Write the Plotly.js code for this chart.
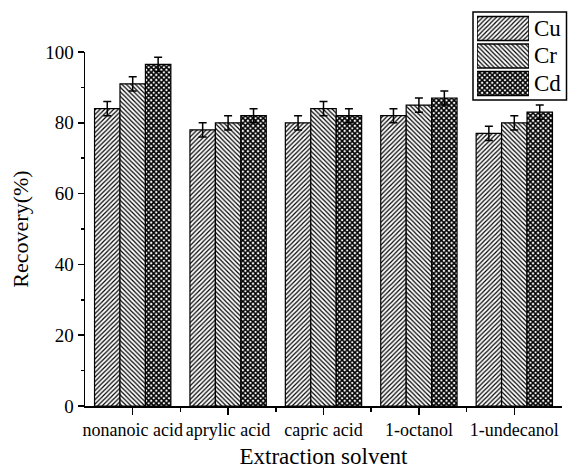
<!DOCTYPE html>
<html>
<head>
<meta charset="utf-8">
<script src="https://cdn.plot.ly/plotly-3.0.1.min.js"></script>
<style>html,body{margin:0;padding:0;background:#fff}</style>
</head>
<body>
<div id="chart" style="width:568px;height:470px"></div>
<script>
const categories = ['nonanoic acid', 'aprylic acid', 'capric acid', '1-octanol', '1-undecanol'];
const seriesNames = ['Cu', 'Cr', 'Cd'];
const cuValues = [84, 78, 80, 82, 77];
const crValues = [91, 80, 84, 85, 80];
const cdValues = [96.5, 82, 82, 87, 83];
const cuErrors = [2, 2, 2, 2, 2];
const crErrors = [2, 2, 2, 2, 2];
const cdErrors = [2, 2, 2, 2, 2];
const yTickVals = [0, 20, 40, 60, 80, 100];
const legendSwatchValues = [1, 1, 1];

const FONT = 'Liberation Serif, Times New Roman, serif';
const patterns = {
  Cu: {shape: '/', size: 3.2, solidity: 0.38, fgcolor: '#000', bgcolor: '#fff'},
  Cr: {shape: '\\', size: 3.2, solidity: 0.38, fgcolor: '#000', bgcolor: '#fff'},
  Cd: {shape: 'x', size: 3.6, solidity: 0.7, fgcolor: '#000', bgcolor: '#fff'}
};
const xIdx = categories.map((_, i) => i);

function barTrace(name, values, errors) {
  return {
    type: 'bar', name: name, x: xIdx, y: values,
    marker: {color: '#fff', line: {color: '#000', width: 1.2}, pattern: patterns[name]},
    error_y: {type: 'data', array: errors, visible: true, color: '#000', thickness: 1.5, width: 4},
    showlegend: false
  };
}

const traces = [
  barTrace('Cu', cuValues, cuErrors),
  barTrace('Cr', crValues, crErrors),
  barTrace('Cd', cdValues, cdErrors),
  {
    type: 'bar', orientation: 'h', x: legendSwatchValues, y: seriesNames,
    xaxis: 'x2', yaxis: 'y2', width: 0.88, showlegend: false, hoverinfo: 'skip',
    marker: {
      color: '#fff', line: {color: '#000', width: 1.5},
      pattern: {
        shape: seriesNames.map(n => patterns[n].shape),
        size: seriesNames.map(n => patterns[n].size),
        solidity: seriesNames.map(n => patterns[n].solidity),
        fgcolor: '#000', bgcolor: '#fff'
      }
    }
  }
];

const W = 568, H = 470, ML = 85, MR = 1, MT = 10, MB = 64;
const PW = W - ML - MR, PH = H - MT - MB;
const px = v => (v - ML) / PW;
const py = v => (H - MB - v) / PH;

const axisCommon = {
  showline: true, linecolor: '#000', linewidth: 1.5,
  ticks: 'outside', tickcolor: '#000', tickwidth: 1.5,
  showgrid: false, zeroline: false
};

const layout = {
  width: W, height: H,
  margin: {l: ML, r: MR, t: MT, b: MB},
  paper_bgcolor: '#fff', plot_bgcolor: '#fff',
  barmode: 'group', bargap: 0.2, bargroupgap: 0,
  font: {family: FONT, color: '#000'},
  xaxis: Object.assign({}, axisCommon, {
    domain: [0, px(562)], range: [-0.5, 4.5],
    tickmode: 'array', tickvals: xIdx, ticktext: categories, ticklen: 7, tickangle: 0,
    tickfont: {family: FONT, size: 18, color: '#000'},
    minor: {tickmode: 'array', tickvals: [0.5, 1.5, 2.5, 3.5], ticks: 'outside', ticklen: 4, tickwidth: 1.5, tickcolor: '#000'},
    title: {text: 'Extraction solvent', font: {family: FONT, size: 23, color: '#000'}, standoff: 9}
  }),
  yaxis: Object.assign({}, axisCommon, {
    domain: [0, py(52)], range: [0, 100],
    tickmode: 'array', tickvals: yTickVals, ticklen: 6,
    tickfont: {family: FONT, size: 19, color: '#000'},
    minor: {tickmode: 'linear', tick0: 10, dtick: 20, ticks: 'outside', ticklen: 3, tickwidth: 1.5, tickcolor: '#000'},
    title: {text: 'Recovery(%)', font: {family: FONT, size: 22, color: '#000'}, standoff: 10}
  }),
  xaxis2: {domain: [px(477), px(529)], range: [0, 1], anchor: 'y2', visible: false, fixedrange: true},
  yaxis2: {domain: [py(98), py(14)], type: 'category', autorange: 'reversed', anchor: 'x2', visible: false, fixedrange: true},
  annotations: seriesNames.map(n => ({
    xref: 'x2', yref: 'y2', x: 1, y: n, text: n, showarrow: false,
    xanchor: 'left', yanchor: 'middle', xshift: 3,
    font: {family: FONT, size: 23, color: '#000'}
  })),
  shapes: [{
    type: 'rect', xref: 'paper', yref: 'paper',
    x0: px(473), x1: px(566.5), y0: py(100), y1: py(12),
    line: {color: '#000', width: 1.5}, fillcolor: 'rgba(0,0,0,0)', layer: 'below'
  }]
};

Plotly.newPlot('chart', traces, layout, {displayModeBar: false, staticPlot: true});
</script>
</body>
</html>
